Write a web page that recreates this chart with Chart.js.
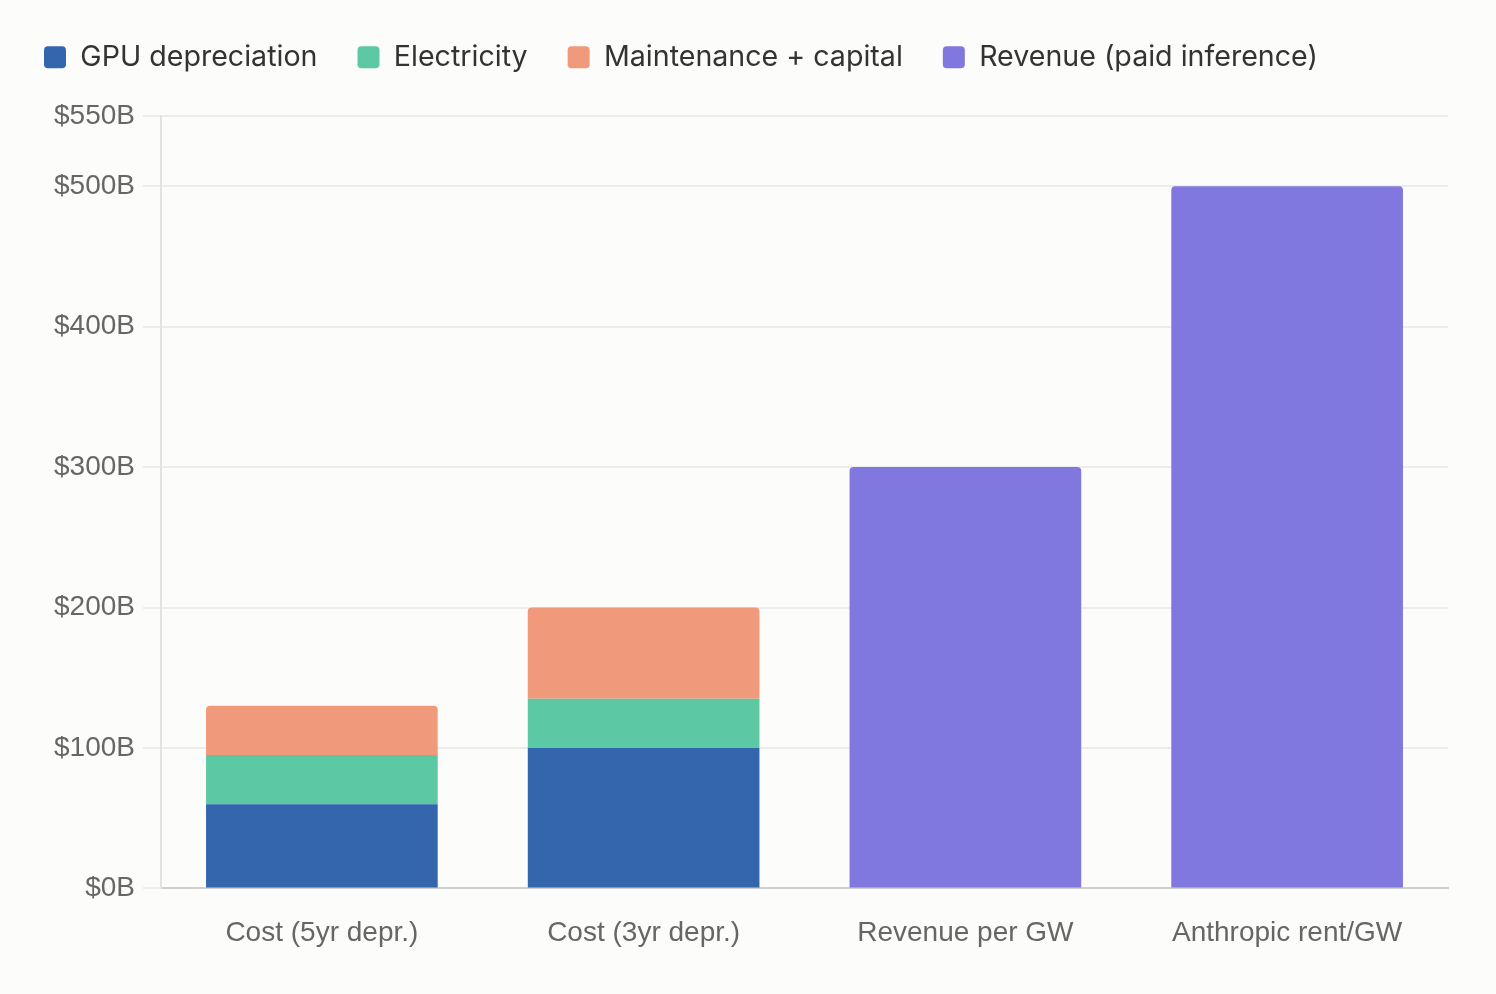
<!DOCTYPE html>
<html>
<head>
<meta charset="utf-8">
<script src="https://cdn.jsdelivr.net/npm/chart.js@4"></script>
<style>
  html, body { margin: 0; padding: 0; background: #fcfcfa; }
  #wrap { width: 1496px; height: 994px; position: relative; }
</style>
</head>
<body>
<div id="wrap"><canvas id="c"></canvas></div>
<script>
const categories = ['Cost (5yr depr.)', 'Cost (3yr depr.)', 'Revenue per GW', 'Anthropic rent/GW'];
const gpuDepreciation = [60, 100, null, null];
const electricity = [35, 35, null, null];
const maintenanceCapital = [35, 65, null, null];
const revenuePaidInference = [null, null, 300, 500];
const yTickValues = [0, 100, 200, 300, 400, 500, 550];

const topRadius = { topLeft: 4, topRight: 4, bottomLeft: 0, bottomRight: 0 };

const legendFitPatch = {
  id: 'legendFitPatch',
  beforeLayout(chart) {
    const lg = chart.legend;
    if (lg && !lg._patched) {
      const orig = lg.fit.bind(lg);
      lg.fit = function () { orig(); this.height = 113; };
      lg._patched = true;
    }
  }
};

new Chart(document.getElementById('c'), {
  type: 'bar',
  data: {
    labels: categories,
    datasets: [
      { label: 'GPU depreciation', data: gpuDepreciation, backgroundColor: '#3366ac', borderWidth: 0 },
      { label: 'Electricity', data: electricity, backgroundColor: '#5cc9a4', borderWidth: 0 },
      { label: 'Maintenance + capital', data: maintenanceCapital, backgroundColor: '#f0997b', borderWidth: 0, borderRadius: topRadius, borderSkipped: false },
      { label: 'Revenue (paid inference)', data: revenuePaidInference, backgroundColor: '#8078de', borderWidth: 0, borderRadius: topRadius, borderSkipped: false }
    ]
  },
  options: {
    responsive: true,
    maintainAspectRatio: false,
    animation: false,
    devicePixelRatio: 1,
    layout: { padding: { left: 4, right: 48, top: 3, bottom: 24 } },
    plugins: {
      legend: {
        position: 'top',
        align: 'start',
        labels: {
          boxWidth: 22,
          boxHeight: 22,
          useBorderRadius: true,
          borderRadius: 4,
          padding: 40,
          color: '#333333',
          font: { family: 'Inter', size: 28.6 }
        }
      },
      tooltip: { enabled: false }
    },
    scales: {
      x: {
        stacked: true,
        grid: { display: false },
        border: { display: true, color: '#cfcfcf', width: 2 },
        ticks: {
          color: '#666666',
          padding: 20,
          font: { family: 'Liberation Sans', size: 28 }
        }
      },
      y: {
        stacked: true,
        min: 0,
        max: 550,
        afterFit(scale) { scale.width = 157; },
        afterBuildTicks(scale) { scale.ticks = yTickValues.map(v => ({ value: v })); },
        grid: { color: '#ececec', lineWidth: 2, tickLength: 18 },
        border: { display: true, color: '#e2e2e2', width: 2 },
        ticks: {
          color: '#666666',
          padding: 8,
          font: { family: 'Liberation Sans', size: 28 },
          callback: v => '$' + v + 'B'
        }
      }
    }
  },
  plugins: [legendFitPatch]
});
</script>
</body>
</html>
